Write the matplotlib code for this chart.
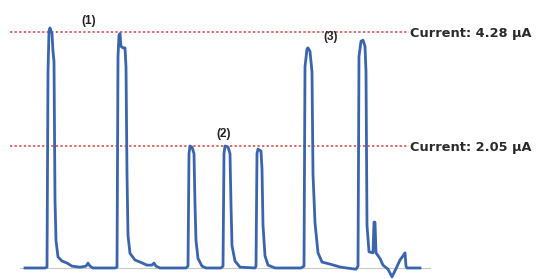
import matplotlib.pyplot as plt

# --- trace data (time in arbitrary units, current in uA) ---
time = [25, 45, 47, 48, 49, 50, 52, 53, 54, 55, 56, 58, 62, 67, 72, 80, 86, 88, 90, 93,
        115, 117, 118, 119, 120, 121, 123, 125, 126, 127, 128, 130, 135, 140, 147, 152, 154, 156, 160,
        186, 188, 189, 190, 192, 194, 195, 196, 198, 202, 206,
        221, 223, 224, 225, 228, 230, 231, 232, 235, 240,
        255, 256, 257, 258, 261, 262, 263, 265, 268, 275,
        301, 304, 305, 307, 308, 310, 312, 313, 315, 318, 322, 330, 340, 348, 356,
        358, 359, 361, 363, 365, 366, 367, 369, 373, 374, 375, 376, 380, 383, 388, 392, 396,
        400, 403, 405, 406, 407, 420]
current = [-0.336, -0.336, -0.32, 3.5, 4.30, 4.36, 4.25, 3.9, 3.7, 1.0, 0.2, -0.12, -0.2, -0.24, -0.30, -0.32, -0.30, -0.24, -0.30, -0.336,
           -0.336, -0.32, 3.8, 4.22, 4.25, 4.0, 3.97, 3.97, 3.6, 1.5, 0.3, -0.05, -0.18, -0.22, -0.28, -0.28, -0.24, -0.30, -0.336,
           -0.336, -0.3, 1.9, 2.05, 2.03, 1.9, 0.9, 0.2, -0.15, -0.30, -0.336,
           -0.336, -0.3, 1.9, 2.05, 2.03, 1.9, 0.9, 0.1, -0.2, -0.32,
           -0.336, -0.3, 1.9, 1.99, 1.95, 1.6, 0.5, -0.1, -0.28, -0.336,
           -0.336, -0.3, 3.6, 3.95, 3.97, 3.9, 3.5, 1.5, 0.55, -0.04, -0.22, -0.26, -0.317, -0.34, -0.36,
           -0.30, 3.8, 4.10, 4.12, 4.0, 3.5, 0.5, -0.02, -0.04, 0.56, 0.56, -0.04, -0.15, -0.28, -0.36, -0.51, -0.35,
           -0.18, -0.1, -0.04, -0.3, -0.336, -0.336]

# reference current levels
levels = [4.28, 2.05]
level_labels = ['Current: 4.28 \u00b5A', 'Current: 2.05 \u00b5A']

# peak group labels
group_labels = ['(1)', '(2)', '(3)']
group_x = [89, 224, 331]
group_y = [4.495, 2.285, 4.182]

k = 2.23 / 114  # uA per pixel row

fig = plt.figure(figsize=(5.42, 2.79), dpi=100)
ax = fig.add_axes([0, 0, 1, 1])
ax.set_xlim(0, 542)
ax.set_ylim((250.8 - 279) * k, 250.8 * k)
ax.axis('off')

for lvl, lab in zip(levels, level_labels):
    ax.plot([10, 409], [lvl, lvl], color='#d9403a', linestyle=(0, (1.5, 1.5)), linewidth=1.1)
    ax.text(410, lvl - 0.03, lab, ha='left', va='center', fontsize=9.3, fontweight='bold',
            family='DejaVu Sans', color='#2a2a2a')

ax.plot([20, 430], [-0.336, -0.336], color='#c8c8c8', linewidth=0.8)
ax.plot(time, current, color='#3a64ad', linewidth=2.0, solid_joinstyle='round')

for x, y, lab in zip(group_x, group_y, group_labels):
    ax.text(x, y, lab, ha='center', va='center', fontsize=8.5, fontweight='bold',
            family='Liberation Sans', color='#222222')

fig.savefig('out.png', dpi=100)
